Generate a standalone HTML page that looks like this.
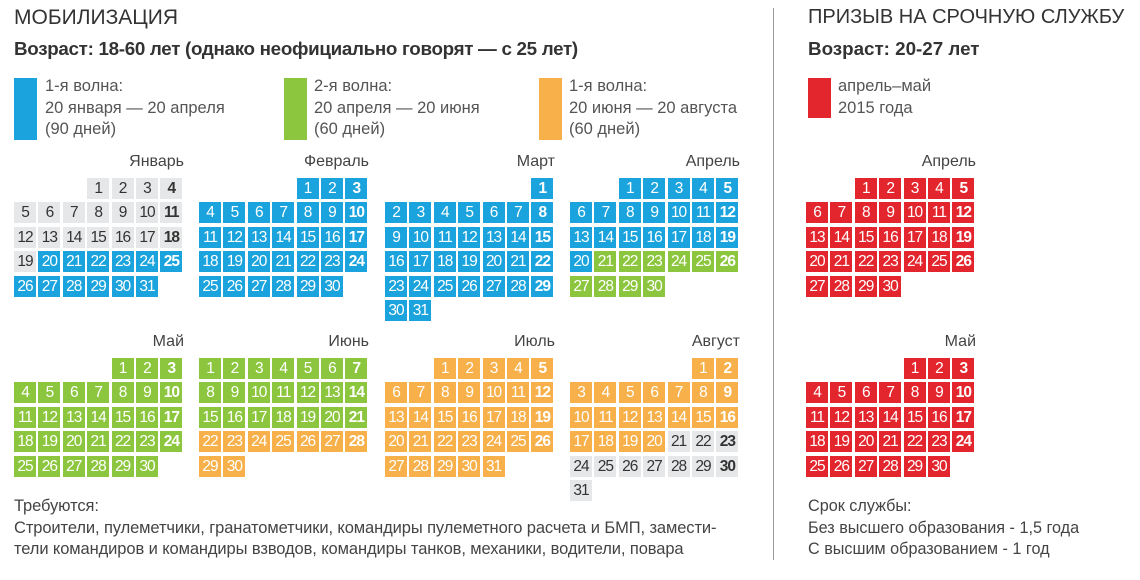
<!DOCTYPE html>
<html><head><meta charset="utf-8"><style>
body{margin:0;width:1140px;height:580px;background:#fff;position:relative;overflow:hidden;font-family:"Liberation Sans",sans-serif;color:#333}
.a{position:absolute;white-space:nowrap}
.m{position:absolute;display:grid;grid-template-columns:repeat(7,22px);column-gap:2.4px;row-gap:3.4px;grid-auto-rows:21px}
.m i{font-style:normal;display:block;text-align:center;font-size:15.5px;line-height:21px;letter-spacing:-1px;color:#fff}
.m i:nth-child(7n){font-weight:bold}
.m i.e{background:none}
.B i{background:#1aa3dc}.G i{background:#8cc63f}.O i{background:#f7b04a}.R i{background:#e3262d}
.m i.g{background:#e6e7e8;color:#333}
.m i.b{background:#1aa3dc;color:#fff}.m i.gr{background:#8cc63f;color:#fff}.m i.o{background:#f7b04a;color:#fff}
.t{position:absolute;width:170px;text-align:right;font-size:16px;color:#444}
.sq{position:absolute;width:23px}
.lg{position:absolute;font-size:16.5px;line-height:21.5px;color:#555;white-space:nowrap}
</style></head><body>
<div class="a" style="left:14px;top:6px;font-size:21px;color:#333">МОБИЛИЗАЦИЯ</div>
<div class="a" style="left:14px;top:38px;font-size:18.8px;font-weight:bold;color:#333;letter-spacing:-0.3px">Возраст: 18-60 лет (однако неофициально говорят — с 25 лет)</div>
<div class="a" style="left:808px;top:6px;font-size:20px;color:#333">ПРИЗЫВ НА СРОЧНУЮ СЛУЖБУ</div>
<div class="a" style="left:808px;top:38px;font-size:18.8px;font-weight:bold;color:#333">Возраст: 20-27 лет</div>
<div style="position:absolute;left:773px;top:8px;width:1px;height:552px;background:#999"></div>

<div class="sq" style="left:14px;top:78px;height:62px;background:#1aa3dc"></div>
<div class="lg" style="left:45px;top:76px">1-я волна:<br>20 января — 20 апреля<br>(90 дней)</div>
<div class="sq" style="left:284px;top:78px;height:62px;background:#8cc63f"></div>
<div class="lg" style="left:314px;top:76px">2-я волна:<br>20 апреля — 20 июня<br>(60 дней)</div>
<div class="sq" style="left:539px;top:78px;height:62px;background:#f7b04a"></div>
<div class="lg" style="left:569px;top:76px">1-я волна:<br>20 июня — 20 августа<br>(60 дней)</div>
<div class="sq" style="left:808px;top:78px;height:40px;background:#e3262d"></div>
<div class="lg" style="left:838px;top:76px">апрель–май<br>2015 года</div>

<div class="t" style="left:14px;top:153px">Январь</div>
<div class="t" style="left:199px;top:153px">Февраль</div>
<div class="t" style="left:385px;top:153px">Март</div>
<div class="t" style="left:570px;top:153px">Апрель</div>
<div class="t" style="left:806px;top:153px">Апрель</div>
<div class="t" style="left:14px;top:333px">Май</div>
<div class="t" style="left:199px;top:333px">Июнь</div>
<div class="t" style="left:385px;top:333px">Июль</div>
<div class="t" style="left:570px;top:333px">Август</div>
<div class="t" style="left:806px;top:333px">Май</div>

<div class="m B" style="left:14px;top:178px"><i class="e"></i><i class="e"></i><i class="e"></i><i class="g">1</i><i class="g">2</i><i class="g">3</i><i class="g">4</i><i class="g">5</i><i class="g">6</i><i class="g">7</i><i class="g">8</i><i class="g">9</i><i class="g">10</i><i class="g">11</i><i class="g">12</i><i class="g">13</i><i class="g">14</i><i class="g">15</i><i class="g">16</i><i class="g">17</i><i class="g">18</i><i class="g">19</i><i>20</i><i>21</i><i>22</i><i>23</i><i>24</i><i>25</i><i>26</i><i>27</i><i>28</i><i>29</i><i>30</i><i>31</i></div>

<div class="m B" style="left:199px;top:178px"><i class="e"></i><i class="e"></i><i class="e"></i><i class="e"></i><i>1</i><i>2</i><i>3</i><i>4</i><i>5</i><i>6</i><i>7</i><i>8</i><i>9</i><i>10</i><i>11</i><i>12</i><i>13</i><i>14</i><i>15</i><i>16</i><i>17</i><i>18</i><i>19</i><i>20</i><i>21</i><i>22</i><i>23</i><i>24</i><i>25</i><i>26</i><i>27</i><i>28</i><i>29</i><i>30</i></div>

<div class="m B" style="left:385px;top:178px"><i class="e"></i><i class="e"></i><i class="e"></i><i class="e"></i><i class="e"></i><i class="e"></i><i>1</i><i>2</i><i>3</i><i>4</i><i>5</i><i>6</i><i>7</i><i>8</i><i>9</i><i>10</i><i>11</i><i>12</i><i>13</i><i>14</i><i>15</i><i>16</i><i>17</i><i>18</i><i>19</i><i>20</i><i>21</i><i>22</i><i>23</i><i>24</i><i>25</i><i>26</i><i>27</i><i>28</i><i>29</i><i>30</i><i>31</i></div>

<div class="m B" style="left:570px;top:178px"><i class="e"></i><i class="e"></i><i>1</i><i>2</i><i>3</i><i>4</i><i>5</i><i>6</i><i>7</i><i>8</i><i>9</i><i>10</i><i>11</i><i>12</i><i>13</i><i>14</i><i>15</i><i>16</i><i>17</i><i>18</i><i>19</i><i>20</i><i class="gr">21</i><i class="gr">22</i><i class="gr">23</i><i class="gr">24</i><i class="gr">25</i><i class="gr">26</i><i class="gr">27</i><i class="gr">28</i><i class="gr">29</i><i class="gr">30</i></div>

<div class="m R" style="left:806px;top:178px"><i class="e"></i><i class="e"></i><i>1</i><i>2</i><i>3</i><i>4</i><i>5</i><i>6</i><i>7</i><i>8</i><i>9</i><i>10</i><i>11</i><i>12</i><i>13</i><i>14</i><i>15</i><i>16</i><i>17</i><i>18</i><i>19</i><i>20</i><i>21</i><i>22</i><i>23</i><i>24</i><i>25</i><i>26</i><i>27</i><i>28</i><i>29</i><i>30</i></div>

<div class="m G" style="left:14px;top:358px"><i class="e"></i><i class="e"></i><i class="e"></i><i class="e"></i><i>1</i><i>2</i><i>3</i><i>4</i><i>5</i><i>6</i><i>7</i><i>8</i><i>9</i><i>10</i><i>11</i><i>12</i><i>13</i><i>14</i><i>15</i><i>16</i><i>17</i><i>18</i><i>19</i><i>20</i><i>21</i><i>22</i><i>23</i><i>24</i><i>25</i><i>26</i><i>27</i><i>28</i><i>29</i><i>30</i></div>

<div class="m G" style="left:199px;top:358px"><i>1</i><i>2</i><i>3</i><i>4</i><i>5</i><i>6</i><i>7</i><i>8</i><i>9</i><i>10</i><i>11</i><i>12</i><i>13</i><i>14</i><i>15</i><i>16</i><i>17</i><i>18</i><i>19</i><i>20</i><i>21</i><i class="o">22</i><i class="o">23</i><i class="o">24</i><i class="o">25</i><i class="o">26</i><i class="o">27</i><i class="o">28</i><i class="o">29</i><i class="o">30</i></div>

<div class="m O" style="left:385px;top:358px"><i class="e"></i><i class="e"></i><i>1</i><i>2</i><i>3</i><i>4</i><i>5</i><i>6</i><i>7</i><i>8</i><i>9</i><i>10</i><i>11</i><i>12</i><i>13</i><i>14</i><i>15</i><i>16</i><i>17</i><i>18</i><i>19</i><i>20</i><i>21</i><i>22</i><i>23</i><i>24</i><i>25</i><i>26</i><i>27</i><i>28</i><i>29</i><i>30</i><i>31</i></div>

<div class="m O" style="left:570px;top:358px"><i class="e"></i><i class="e"></i><i class="e"></i><i class="e"></i><i class="e"></i><i>1</i><i>2</i><i>3</i><i>4</i><i>5</i><i>6</i><i>7</i><i>8</i><i>9</i><i>10</i><i>11</i><i>12</i><i>13</i><i>14</i><i>15</i><i>16</i><i>17</i><i>18</i><i>19</i><i>20</i><i class="g">21</i><i class="g">22</i><i class="g">23</i><i class="g">24</i><i class="g">25</i><i class="g">26</i><i class="g">27</i><i class="g">28</i><i class="g">29</i><i class="g">30</i><i class="g">31</i></div>

<div class="m R" style="left:806px;top:358px"><i class="e"></i><i class="e"></i><i class="e"></i><i class="e"></i><i>1</i><i>2</i><i>3</i><i>4</i><i>5</i><i>6</i><i>7</i><i>8</i><i>9</i><i>10</i><i>11</i><i>12</i><i>13</i><i>14</i><i>15</i><i>16</i><i>17</i><i>18</i><i>19</i><i>20</i><i>21</i><i>22</i><i>23</i><i>24</i><i>25</i><i>26</i><i>27</i><i>28</i><i>29</i><i>30</i></div>

<div class="lg" style="left:14px;top:496px;font-size:16.5px;color:#444;letter-spacing:-0.1px">Требуются:<br>Строители, пулеметчики, гранатометчики, командиры пулеметного расчета и БМП, замести-<br>тели командиров и командиры взводов, командиры танков, механики, водители, повара</div>
<div class="lg" style="left:808px;top:496px;font-size:16.2px;color:#444">Срок службы:<br>Без высшего образования - 1,5 года<br>С высшим образованием - 1 год</div>
</body></html>
